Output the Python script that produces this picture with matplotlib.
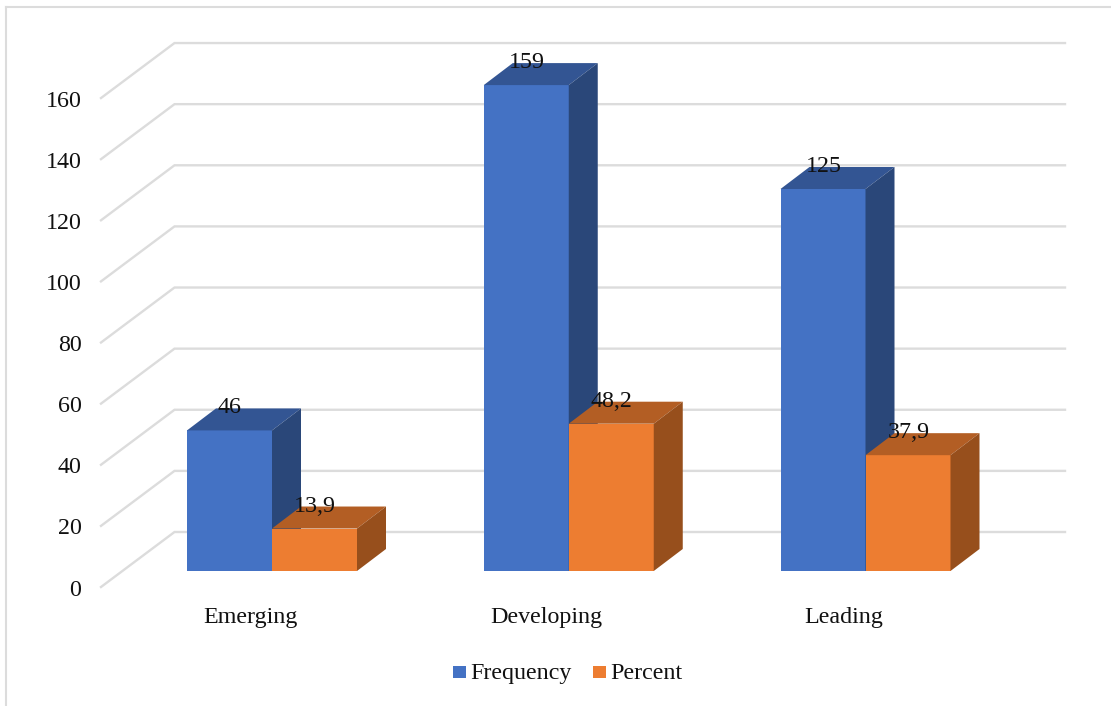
#! /usr/bin/env python3

from matplotlib import pyplot as plt
from matplotlib.patches import Polygon, Rectangle

categories = ["Emerging", "Developing", "Leading"]
frequency = [46, 159, 125]
percent = [13.9, 48.2, 37.9]
frequency_labels = ["46", "159", "125"]
percent_labels = ["13,9", "48,2", "37,9"]
yticks = [0, 20, 40, 60, 80, 100, 120, 140, 160]

WIDTH, HEIGHT = 1111, 706
PX_X = 296.75    # pixels per category
PX_Y = 3.056     # pixels per value unit
X0, Y0 = 272, 571

# depth of the bars, in data units
BAR_W = 85 / PX_X
DX = 29 / PX_X
DY = 22 / PX_Y

GRID = "#dcdcdc"
TEXT = "#111111"
FONTSIZE = 17.3

plt.rcParams["font.family"] = ["Liberation Serif", "DejaVu Serif"]

fig = plt.figure(figsize=(WIDTH / 100, HEIGHT / 100), dpi=100)
ax = fig.add_axes([0, 0, 1, 1])
ax.set_xlim(-X0 / PX_X, (WIDTH - X0) / PX_X)
ax.set_ylim((Y0 - HEIGHT) / PX_Y, Y0 / PX_Y)
ax.axis("off")


def bar3d(x, value, front, top, side, z):
    ax.add_patch(Rectangle((x, 0), BAR_W, value, fc=front, ec="none", zorder=z))
    ax.add_patch(Polygon([(x, value), (x + BAR_W, value), (x + BAR_W + DX, value + DY), (x + DX, value + DY)],
                         fc=top, ec="none", zorder=z))
    ax.add_patch(Polygon([(x + BAR_W, 0), (x + BAR_W + DX, DY), (x + BAR_W + DX, value + DY), (x + BAR_W, value)],
                         fc=side, ec="none", zorder=z))


# chart frame
ax.plot([5.5 / PX_X - X0 / PX_X] * 2, [(Y0 - 706) / PX_Y, (Y0 - 6.5) / PX_Y], color=GRID, lw=1.5, zorder=1)
ax.plot([5.5 / PX_X - X0 / PX_X, (1111 - X0) / PX_X], [(Y0 - 6.5) / PX_Y] * 2, color=GRID, lw=1.5, zorder=1)

# grid: back wall plus slanted side wall
left_x = (101 - X0) / PX_X
mid_x = (174.5 - X0) / PX_X
right_x = (1065 - X0) / PX_X
front_off = (571 - 587) / PX_Y
back_off = (571 - 532) / PX_Y
for tick in yticks:
    ax.plot([left_x, mid_x, right_x], [tick + front_off, tick + back_off, tick + back_off],
            color=GRID, lw=1.7, solid_joinstyle="miter", zorder=1)
    ax.text((81.5 - X0) / PX_X, tick + front_off - 8.5 / PX_Y, str(tick), ha="right", va="baseline",
            fontsize=FONTSIZE, color=TEXT, zorder=5)

for i, name in enumerate(categories):
    bar3d(i - BAR_W, frequency[i], "#4472c4", "#335593", "#2a4779", 2)
    bar3d(i, percent[i], "#ed7d31", "#b35e24", "#974f1c", 3)
    ax.text(i - 42 / PX_X, frequency[i] + DY - 5 / PX_Y, frequency_labels[i], ha="center",
            va="baseline", fontsize=FONTSIZE, color=TEXT, zorder=5)
    ax.text(i + 43 / PX_X, percent[i] + DY - 5 / PX_Y, percent_labels[i], ha="center", va="baseline",
            fontsize=FONTSIZE, color=TEXT, zorder=5)
    ax.text(i - 22 / PX_X, -52 / PX_Y, name, ha="center", va="baseline", fontsize=FONTSIZE, color=TEXT, zorder=5)

# legend drawn as a strip under the chart
ly = -101 / PX_Y
for lx, color, label in [(453, "#4472c4", "Frequency"), (593, "#ed7d31", "Percent")]:
    ax.add_patch(Rectangle(((lx - X0) / PX_X, ly - 6 / PX_Y), 12.5 / PX_X, 12.5 / PX_Y, fc=color, ec="none"))
    ax.text((lx + 17 - X0) / PX_X, ly - 7 / PX_Y, label, ha="left", va="baseline", fontsize=FONTSIZE, color=TEXT)

plt.savefig("out.png", dpi=100)
